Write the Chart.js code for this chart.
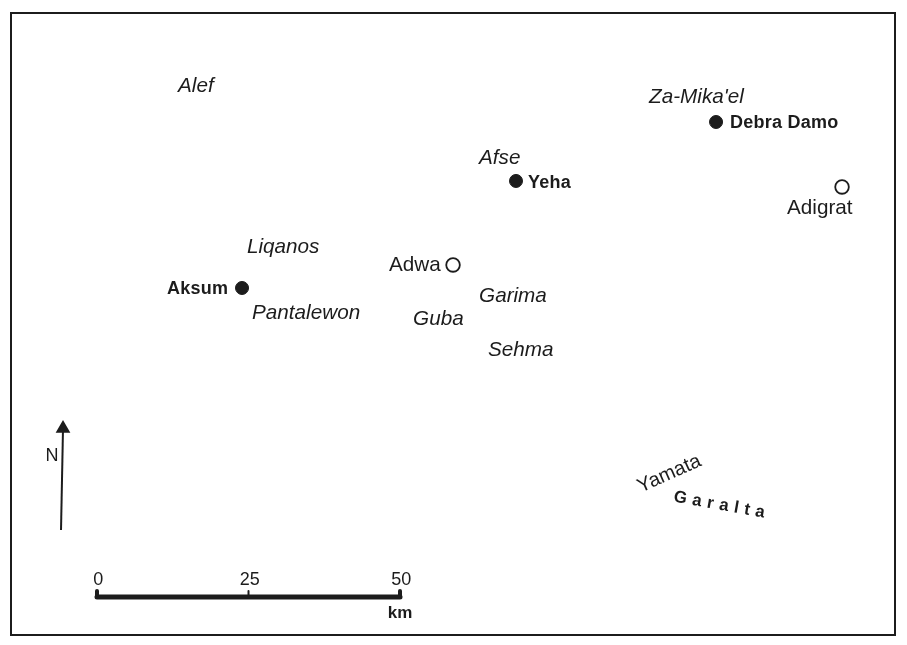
<!DOCTYPE html>
<html>
<head>
<meta charset="utf-8">
<title>Sites around Aksum</title>
<script src="https://cdn.jsdelivr.net/npm/chart.js@4/dist/chart.umd.min.js"></script>
<style>
    html, body { margin: 0; padding: 0; background: #fff; }
    canvas { display: block; }
</style>
</head>
<body>
<canvas id="map" width="907" height="645"></canvas>
<script>
/* all map values are km east / north of the start of the scale bar */

/* sites with a filled marker */
const majorNames = ["Aksum", "Yeha", "Debra Damo"];
const majorEast = [23.93, 69.14, 102.15];
const majorNorth = [50.99, 68.65, 78.38];
const majorLabelEast = [11.55, 71.12, 104.46];
const majorLabelNorth = [50.99, 68.48, 78.38];

/* towns with an open marker */
const townNames = ["Adwa", "Adigrat"];
const townEast = [58.75, 122.94];
const townNorth = [54.79, 67.66];
const townLabelEast = [48.19, 113.86];
const townLabelNorth = [54.95, 64.35];

/* italic names */
const areaNames = ["Alef", "Za-Mika'el", "Afse", "Liqanos", "Pantalewon", "Garima", "Guba", "Sehma"];
const areaEast = [13.37, 91.09, 63.04, 24.75, 25.58, 63.04, 52.15, 64.52];
const areaNorth = [84.49, 82.67, 72.61, 57.92, 47.03, 49.83, 46.04, 40.92];

/* scale bar */
const scaleTicks = [0, 25, 50];
const scaleUnit = "km";

/* north arrow */
const arrowEast = [-5.94, -5.61];
const arrowNorth = [11.06, 27.8];

const INK = "#1c1c1c";
const FONT = '"Liberation Sans", Arial, sans-serif';

function points(xs, ys) {
    return xs.map((x, i) => ({ x: x, y: ys[i] }));
}

/* frame and all the text */
const mapText = {
    id: "mapText",
    afterDatasetsDraw(chart) {
        const { ctx, scales } = chart;
        const px = v => scales.x.getPixelForValue(v);
        const py = v => scales.y.getPixelForValue(v);

        function put(text, x, y, font, align, angle, spacing) {
            ctx.save();
            ctx.translate(px(x), py(y));
            ctx.rotate((angle || 0) * Math.PI / 180);
            ctx.font = font;
            ctx.letterSpacing = spacing || "0px";
            ctx.textAlign = align || "left";
            ctx.textBaseline = "middle";
            ctx.fillStyle = INK;
            ctx.fillText(text, 0, 1);
            ctx.restore();
        }

        ctx.save();
        ctx.strokeStyle = INK;
        ctx.lineWidth = 2;
        ctx.strokeRect(11, 13, 884, 622);
        ctx.restore();

        majorNames.forEach((n, i) => put(n, majorLabelEast[i], majorLabelNorth[i], "bold 18px " + FONT, "left", 0, "0.25px"));
        townNames.forEach((n, i) => put(n, townLabelEast[i], townLabelNorth[i], "20.7px " + FONT));
        areaNames.forEach((n, i) => put(n, areaEast[i], areaNorth[i], "italic 20.7px " + FONT));

        put("Yamata", 94.39, 20.46, "20px " + FONT, "center", -24);
        put("Garalta", 95.21, 16.67, "bold 17px " + FONT, "left", 10, "5.6px");

        put("N", -7.43, 23.43, "18px " + FONT, "center");
        scaleTicks.forEach(t => put(String(t), t + 0.2, 3, "18px " + FONT, "center"));
        put(scaleUnit, 50, -2.5, "bold 17px " + FONT, "center");
    }
};

/* little upright strokes on the scale bar */
const tickSets = scaleTicks.map(t => ({
    data: [{ x: t, y: 0 }, { x: t, y: 1 }],
    showLine: true,
    borderColor: INK,
    borderWidth: t === 25 ? 2 : 4,
    borderCapStyle: "round",
    pointRadius: 0
}));

new Chart(document.getElementById("map"), {
    type: "scatter",
    data: {
        datasets: [
            {
                data: points(majorEast, majorNorth),
                pointStyle: "circle",
                pointRadius: 6.5,
                backgroundColor: INK,
                borderColor: INK
            },
            {
                data: points(townEast, townNorth),
                pointStyle: "circle",
                pointRadius: 6.8,
                pointBorderWidth: 1.8,
                backgroundColor: "#fff",
                borderColor: INK
            },
            {
                data: scaleTicks.map(t => ({ x: t, y: 0 })),
                showLine: true,
                borderColor: INK,
                borderWidth: 5,
                borderCapStyle: "round",
                pointRadius: 0
            },
            ...tickSets,
            {
                data: points(arrowEast, arrowNorth),
                showLine: true,
                borderColor: INK,
                borderWidth: 2,
                pointStyle: "triangle",
                pointRadius: [0, 6.5],
                backgroundColor: INK
            }
        ]
    },
    options: {
        responsive: false,
        animation: false,
        layout: { padding: 0, autoPadding: false },
        plugins: {
            legend: { display: false },
            tooltip: { enabled: false }
        },
        scales: {
            x: { type: "linear", display: false, min: -16.007, max: 133.66 },
            y: { type: "linear", display: false, min: -7.92, max: 98.51 }
        }
    },
    plugins: [mapText]
});
</script>
</body>
</html>
